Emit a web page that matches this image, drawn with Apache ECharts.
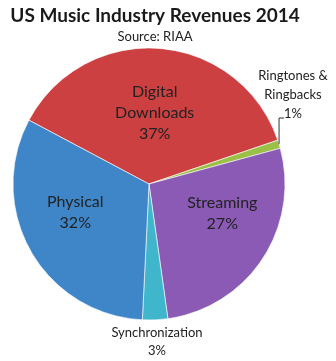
<!DOCTYPE html>
<html>
<head>
<meta charset="utf-8">
<script src="https://cdn.jsdelivr.net/npm/echarts@6/dist/echarts.min.js"></script>
<style>
  html, body { margin: 0; padding: 0; background: #fff; }
  #chart { width: 336px; height: 361px; }
</style>
</head>
<body>
<div id="chart"></div>
<script>
// US music industry revenue shares, 2014 (percent)
const categories = ['Digital\nDownloads', 'Ringtones &\nRingbacks', 'Streaming', 'Synchronization', 'Physical'];
const shares = [37, 1, 27, 3, 32];
const sliceColors = ['#CC4042', '#9BC046', '#8A5AB5', '#40B6CC', '#3F86C8'];

const FONT = 'Lato, "Open Sans", sans-serif';
const CENTER = [149, 184];
const RADIUS = 136;
const START_ANGLE = 152;

// Per-slice label tweaks: big labels sit inside, small ones outside
const inside = { position: 'inside', fontSize: 16, lineHeight: 21 };
const labelTweaks = [
  Object.assign({}, inside),
  { position: 'outside', fontSize: 13, lineHeight: 19 },
  Object.assign({ offset: [14, -10] }, inside),
  { position: 'outside', fontSize: 13, lineHeight: 18 },
  Object.assign({ offset: [-12, -7] }, inside)
];

const data = categories.map((name, i) => ({
  name: name,
  value: shares[i],
  itemStyle: { color: sliceColors[i] },
  label: labelTweaks[i]
}));

// Leader for the thin ringtones slice: straight up from the rim at the
// slice's mid angle, then a short hook towards its label.
const total = shares.reduce((a, b) => a + b, 0);
const before = shares.slice(0, 1).reduce((a, b) => a + b, 0);
const midDeg = START_ANGLE - (before + shares[1] / 2) / total * 360;
const rim = [
  CENTER[0] + RADIUS * Math.cos(midDeg * Math.PI / 180),
  CENTER[1] - RADIUS * Math.sin(midDeg * Math.PI / 180)
];
const hookY = 118;

const chart = echarts.init(document.getElementById('chart'));
chart.setOption({
  animation: false,
  title: {
    text: 'US Music Industry Revenues 2014',
    subtext: 'Source: RIAA',
    left: 150,
    textAlign: 'center',
    top: 1,
    itemGap: 5,
    textStyle: { fontFamily: FONT, fontWeight: 'bold', fontSize: 19, color: '#1a1a1a' },
    subtextStyle: { fontFamily: FONT, fontSize: 13, color: '#222' }
  },
  graphic: [{
    type: 'polyline',
    z: 10,
    shape: { points: [rim, [rim[0], hookY], [rim[0] + 5, hookY]] },
    style: { stroke: '#333', lineWidth: 1, fill: null }
  }],
  series: [{
    type: 'pie',
    center: CENTER,
    radius: RADIUS,
    startAngle: START_ANGLE,
    clockwise: true,
    avoidLabelOverlap: false,
    itemStyle: { borderColor: '#fff', borderWidth: 0.6 },
    label: {
      fontFamily: FONT,
      color: '#222',
      formatter: p => p.name + '\n' + p.value + '%'
    },
    labelLine: { show: false },
    labelLayout: function (params) {
      if (params.dataIndex === 1) {
        return { x: 293, y: 95, align: 'center', verticalAlign: 'middle' };
      }
      if (params.dataIndex === 3) {
        return { x: 157, y: 342, align: 'center', verticalAlign: 'middle' };
      }
    },
    data: data
  }]
});
</script>
</body>
</html>
